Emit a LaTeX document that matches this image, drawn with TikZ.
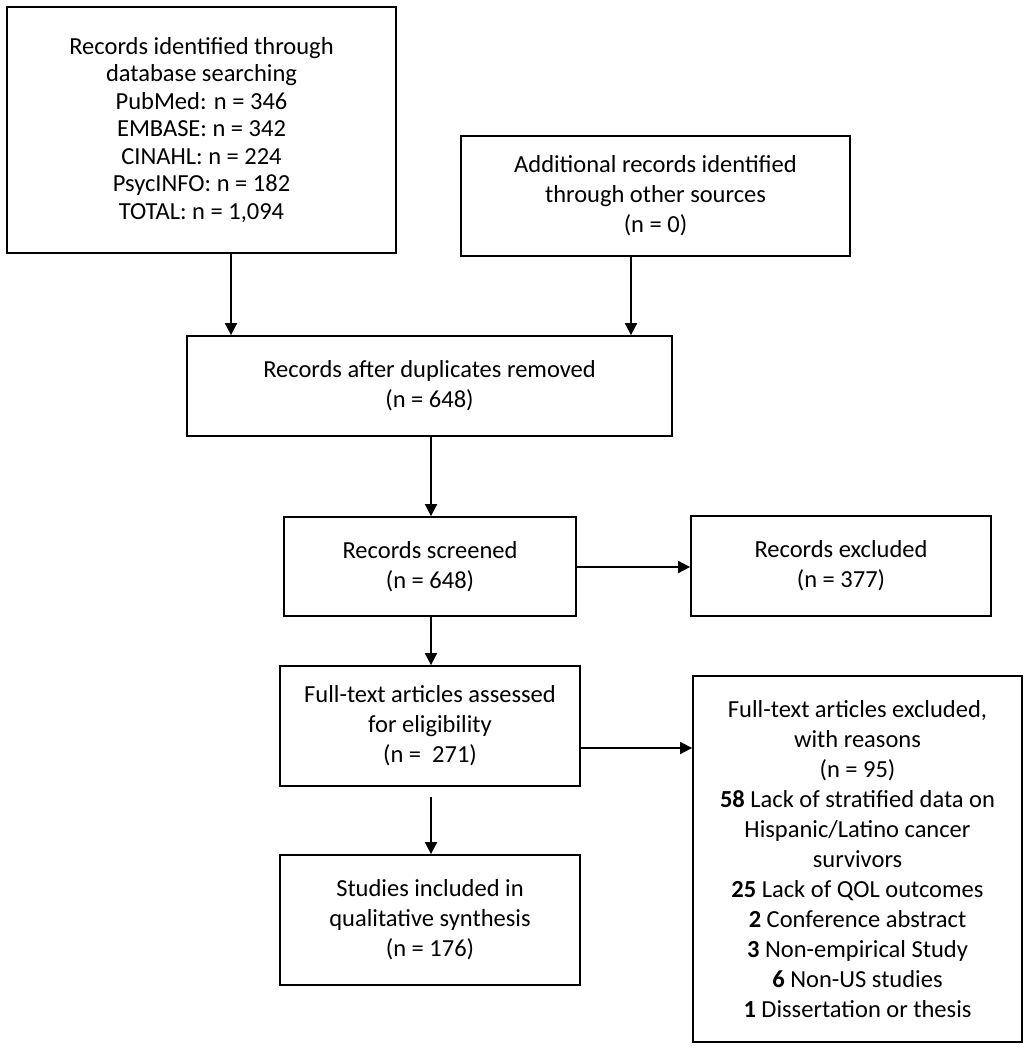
\documentclass[tikz,border=0pt]{standalone}
\usepackage{fontspec}
\setmainfont{Carlito}
\usepackage{tikz}
\usetikzlibrary{arrows.meta}

\begin{document}
\begin{tikzpicture}[x=1pt, y=-1pt, ->, >={Triangle[length=12pt,width=12pt]}, line width=1.8pt]
    \tikzstyle{caja}=[draw=black, fill=white, align=center, inner sep=0pt, font=\fontsize{24.5}{30}\selectfont]

    \useasboundingbox (0,0) rectangle (1028,1050);

    % Identificacion
    \node[caja, minimum width=389pt, minimum height=246pt, font=\fontsize{24.5}{27.5}\selectfont]
                (busqueda)  at (201.5,130)  {Records identified through\\database searching\\PubMed: n = 346\\EMBASE: n = 342\\CINAHL: n = 224\\PsycINFO: n = 182\\TOTAL: n = 1,094};
    \node[caja, minimum width=389pt, minimum height=120pt]
                (otras)     at (655.5,196)  {Additional records identified\\through other sources\\(n = 0)};

    % Cribado
    \node[caja, minimum width=485pt, minimum height=100pt]
                (duplic)    at (429.5,386)  {Records after duplicates removed\\(n = 648)};
    \node[caja, minimum width=292pt, minimum height=99pt]
                (cribado)   at (430,566.5)  {Records screened\\(n = 648)};
    \node[caja, minimum width=300pt, minimum height=100pt]
                (excluidos) at (841,566)    {Records excluded\\(n = 377)};

    % Elegibilidad
    \node[caja, minimum width=300pt, minimum height=120pt]
                (textocomp) at (430,726)    {Full-text articles assessed\\for eligibility\\(n = \ 271)};
    \node[caja, minimum width=329pt, minimum height=366pt]
                (razones)   at (857.5,859)  {Full-text articles excluded,\\with reasons\\(n = 95)\\\textbf{58} Lack of stratified data on\\Hispanic/Latino cancer\\survivors\\\textbf{25} Lack of QOL outcomes\\\textbf{2} Conference abstract\\\textbf{3} Non-empirical Study\\\textbf{6} Non-US studies\\\textbf{1} Dissertation or thesis};

    % Incluidos
    \node[caja, minimum width=300pt, minimum height=130pt]
                (incluidos) at (430,920)    {Studies included in\\qualitative synthesis\\(n = 176)};

    \path
        ([xshift=29.5pt]busqueda.south) edge ([xshift=29.5pt]busqueda.south |- duplic.north)
        ([xshift=-24.5pt]otras.south)   edge ([xshift=-24.5pt]otras.south |- duplic.north)
        ([xshift=1.5pt]duplic.south)    edge ([xshift=1.5pt]duplic.south |- cribado.north)
        ([yshift=-0.5pt]cribado.east)   edge ([yshift=-0.5pt]cribado.east -| excluidos.west)
        ([xshift=1pt]cribado.south)     edge ([xshift=1pt]cribado.south |- textocomp.north)
        ([yshift=-22pt]textocomp.east)  edge ([yshift=-22pt]textocomp.east -| razones.west)
        ([xshift=1pt]textocomp.south)   edge [shorten <=10pt] ([xshift=1pt]textocomp.south |- incluidos.north)
    ;
\end{tikzpicture}
\end{document}
